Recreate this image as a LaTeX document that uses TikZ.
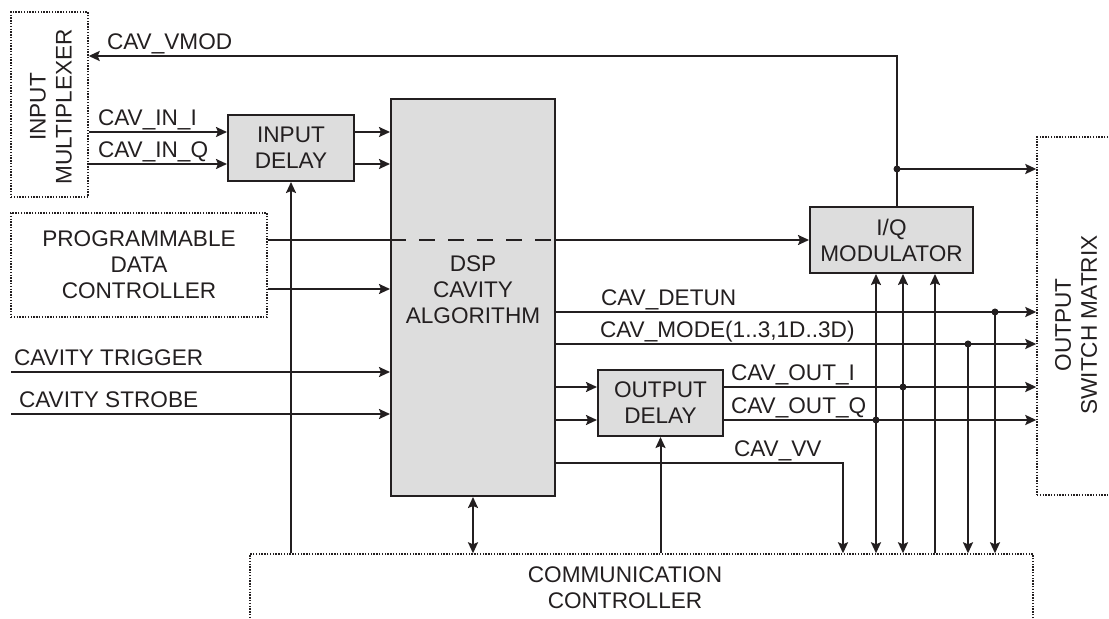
\documentclass[tikz,border=0pt]{standalone}
\usepackage{fontspec}
\setmainfont{Liberation Sans}
\usepackage{tikz}
\usetikzlibrary{arrows.meta,positioning,calc}
\definecolor{ink}{HTML}{231F20}
\definecolor{boxgray}{HTML}{DDDDDD}

\begin{document}
\begin{tikzpicture}[x=0.5pt, y=-0.5pt, >={Stealth[length=5.5pt,width=5pt,inset=1pt]},
  line width=1pt, color=ink, font=\fontsize{11.3}{13}\selectfont,
  blk/.style={draw=ink, fill=boxgray, inner sep=0pt, align=center},
  dotbox/.style={draw=ink, line width=0.7pt, dash pattern=on 0.7pt off 0.7pt,
    inner sep=0pt},
  sig/.style={anchor=base west, inner sep=0pt}]
\useasboundingbox (0,0) rectangle (1109,619);
% boxes
\node[dotbox, minimum width=38.5pt, minimum height=92.5pt] (mux) at (49.5,104.5) {};
\node[rotate=90, align=center] at (51,107) {INPUT\\MULTIPLEXER};
\node[blk, minimum width=63pt, minimum height=33pt] (indelay) at (291,148) {INPUT\\DELAY};
\node[blk, minimum width=82pt, minimum height=198.5pt] (dsp) at (473,297.5) {};
\node[align=center] at (473,290) {DSP\\CAVITY\\ALGORITHM};
\node[dotbox, align=center, minimum width=128pt, minimum height=52pt] (pdc) at (139,265) {PROGRAMMABLE\\DATA\\CONTROLLER};
\node[blk, minimum width=81.5pt, minimum height=33pt] (iqmod) at (891.5,240) {I/Q\\MODULATOR};
\node[blk, minimum width=62.5pt, minimum height=33pt] (outdelay) at (660.5,403) {OUTPUT\\DELAY};
\node[dotbox, minimum width=391.5pt, minimum height=48pt] (comm) at (641.5,602) {};
\node[align=center] at (625,588) {COMMUNICATION\\CONTROLLER};
\node[dotbox, minimum width=51.5pt, minimum height=179pt] (osm) at (1088.5,316) {};
\node[rotate=90, align=center] at (1076,325) {OUTPUT\\SWITCH MATRIX};

% modulator feedback
\coordinate (jmod) at (897,169);
\draw (iqmod.north -| jmod) -- (jmod);
\draw[->] (jmod) |- (mux.east |- 0,56);
\draw[->] (jmod) -- (osm.west |- jmod);
\fill (jmod) circle (1.75pt);
\node[sig] at (106,50) {CAV\_VMOD};

% inputs
\draw[->] (mux.east |- 0,132) -- (indelay.west |- 0,132);
\draw[->] (mux.east |- 0,164) -- (indelay.west |- 0,164);
\draw[->] (indelay.east |- 0,132) -- (dsp.west |- 0,132);
\draw[->] (indelay.east |- 0,164) -- (dsp.west |- 0,164);
\node[sig] at (97,126) {CAV\_IN\_I};
\node[sig] at (97,158) {CAV\_IN\_Q};

\draw (pdc.east |- 0,240) -- (dsp.west |- 0,240);
\draw[dash pattern=on 8pt off 6.5pt] (dsp.west |- 0,240) -- (dsp.east |- 0,240);
\draw[->] (dsp.east |- 0,240) -- (iqmod.west |- 0,240);
\draw[->] (pdc.east |- 0,289) -- (dsp.west |- 0,289);

\coordinate (trig) at (11,372);
\coordinate (strb) at (11,414);
\draw[->] (trig) -- (dsp.west |- trig);
\draw[->] (strb) -- (dsp.west |- strb);
\node[sig] at (13,366) {CAVITY TRIGGER};
\node[sig] at (18,408) {CAVITY STROBE};

% communication controller
\draw[->] (comm.north -| indelay.south) -- (indelay.south);
\draw[<->] (dsp.south) -- (comm.north -| dsp.south);
\draw[->] (comm.north -| outdelay.south) -- (outdelay.south);

% outputs
\draw[->] (dsp.east |- 0,312) -- (osm.west |- 0,312);
\draw[->] (dsp.east |- 0,344) -- (osm.west |- 0,344);
\draw[->] (dsp.east |- 0,387) -- (outdelay.west |- 0,387);
\draw[->] (dsp.east |- 0,420) -- (outdelay.west |- 0,420);
\draw[->] (outdelay.east |- 0,387) -- (osm.west |- 0,387);
\draw[->] (outdelay.east |- 0,420) -- (osm.west |- 0,420);
\coordinate (vv) at (843,463);
\draw[->] (dsp.east |- vv) -- (vv) -- (comm.north -| vv);
\node[sig] at (600,306) {CAV\_DETUN};
\node[sig] at (599,338) {CAV\_MODE(1..3,1D..3D)};
\node[sig] at (730,381) {CAV\_OUT\_I};
\node[sig] at (730,414) {CAV\_OUT\_Q};
\node[sig] at (733,457) {CAV\_VV};

% taps
\coordinate (jq) at (876,420);
\coordinate (ji) at (903,387);
\coordinate (jmode) at (968,344);
\coordinate (jdet) at (995,312);
\draw[<->] (comm.north -| jq) -- (iqmod.south -| jq);
\draw[<->] (comm.north -| ji) -- (iqmod.south -| ji);
\draw[->] (comm.north -| 935,0) -- (iqmod.south -| 935,0);
\draw[->] (jmode) -- (comm.north -| jmode);
\draw[->] (jdet) -- (comm.north -| jdet);
\foreach \j in {jq,ji,jmode,jdet} \fill (\j) circle (1.75pt);
\end{tikzpicture}
\end{document}
